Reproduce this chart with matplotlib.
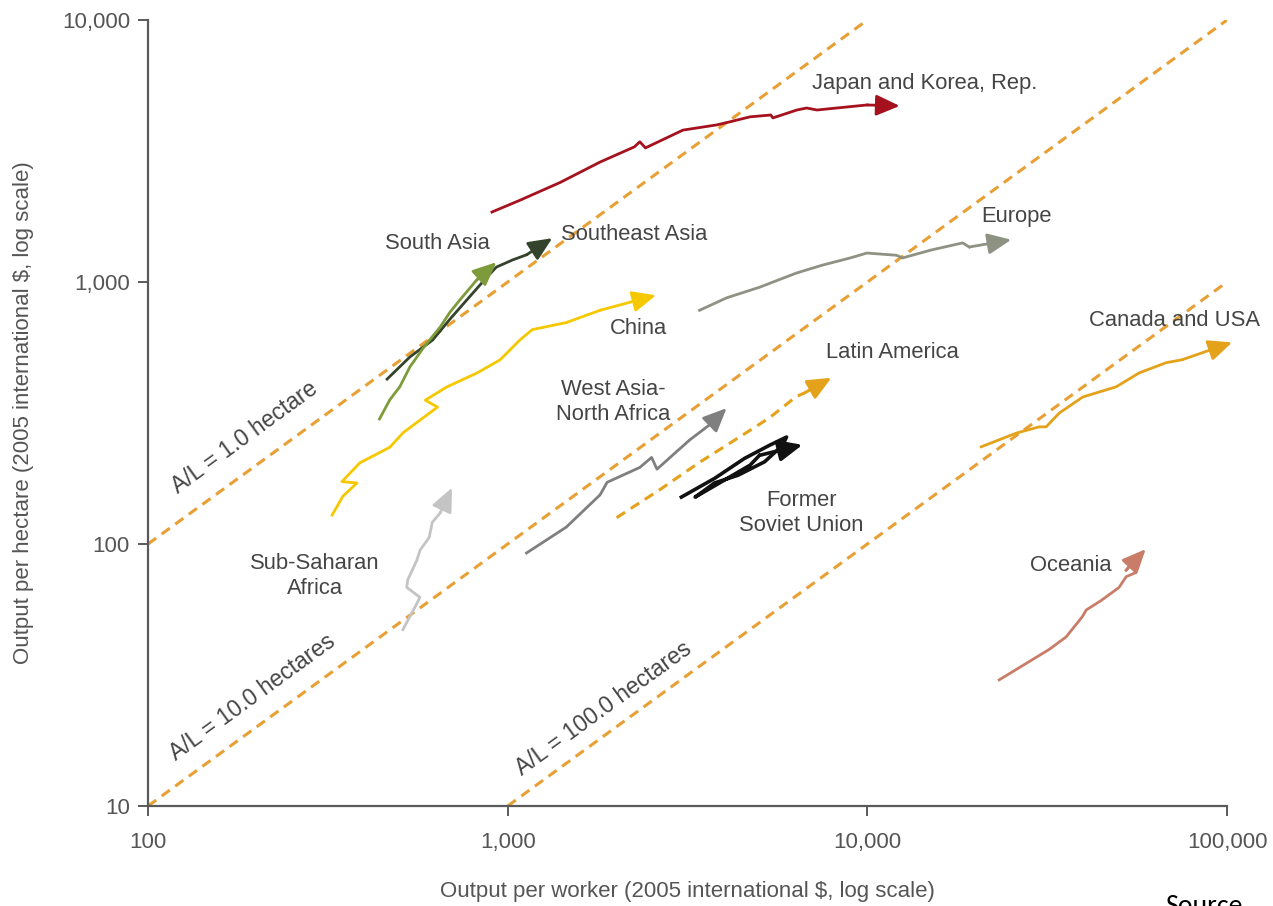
import matplotlib
matplotlib.use("Agg")
import matplotlib.pyplot as plt
from matplotlib.ticker import FixedLocator, FuncFormatter, NullLocator

plt.rcParams['font.family'] = ['Liberation Sans', 'DejaVu Sans']

# land per worker reference lines (y = x / A/L)
al_values = [1, 10, 100]
al_x_start = [100, 100, 1000]
al_x_end = [10000, 100000, 100000]
al_labels = ["A/L = 1.0 hectare", "A/L = 10.0 hectares", "A/L = 100.0 hectares"]
al_label_x = [186, 195, 1850]
al_label_y = [254, 26.0, 23.6]

# regional trajectories: output per worker (x), output per hectare (y)
japan_x = [904, 1080, 1400, 1806, 2250, 2330, 2415, 3070, 3820, 4155, 4717, 5390, 5460, 6370, 6780, 7240, 9975, 12300]
japan_y = [1850, 2050, 2400, 2870, 3280, 3430, 3250, 3800, 3980, 4090, 4270, 4340, 4230, 4535, 4615, 4535, 4740, 4700]

seasia_x = [462, 535, 618, 690, 770, 876, 930, 1033, 1128, 1330]
seasia_y = [426, 518, 600, 720, 855, 1045, 1140, 1215, 1270, 1470]

sasia_x = [440, 470, 501, 535, 585, 650, 690, 735, 820, 930]
sasia_y = [300, 355, 398, 475, 565, 675, 765, 852, 1018, 1190]

china_x = [325, 348, 381, 346, 388, 470, 512, 638, 590, 678, 823, 953, 1080, 1170, 1455, 1806, 2585]
china_y = [129, 152, 171, 173, 204, 234, 266, 333, 354, 398, 450, 505, 600, 658, 700, 780, 890]

europe_x = [3415, 4060, 5012, 6350, 7500, 8950, 9970, 12050, 12510, 15050, 18400, 19200, 25120]
europe_y = [780, 870, 955, 1082, 1160, 1235, 1290, 1265, 1235, 1325, 1410, 1360, 1450]

canada_x = [20730, 25950, 30040, 31420, 34150, 39710, 49170, 57000, 67700, 75000, 103300]
canada_y = [235, 265, 280, 280, 316, 364, 398, 450, 492, 505, 588]

latam_x = [2008, 2645, 3415, 4410, 5340, 6335, 6680, 7943]
latam_y = [126, 161, 205, 256, 303, 365, 377, 431]

wana_x = [1128, 1455, 1806, 1890, 2330, 2512, 2600, 3200, 3640, 4060]
wana_y = [92.4, 116, 154, 172, 196, 214, 193, 249, 285, 330]

fsu_x = [3040, 3760, 4550, 5340, 5960, 5810, 5180, 4370, 3760, 3320, 3880, 4720, 5012, 6600]
fsu_y = [151, 178, 212, 238, 256, 238, 206, 183, 171, 151, 171, 200, 218, 239]

oceania_x = [23260, 32030, 35700, 39600, 40600, 44700, 50100, 52400, 55700, 54500, 52400, 59400]
oceania_y = [30.3, 39.6, 44.2, 52.8, 56.0, 60.9, 68.3, 75.0, 77.7, 85.0, 79.4, 95.6]

ssa_x = [511, 559, 570, 524, 527, 559, 570, 605, 617, 648, 700]
ssa_y = [47.1, 59.3, 62.6, 68.3, 72.8, 86.7, 94.5, 106, 121, 131, 164]

series = [
    (japan_x, japan_y, "#A5121E", "-", 2.0),
    (seasia_x, seasia_y, "#34432B", "-", 2.0),
    (sasia_x, sasia_y, "#7D9B3B", "-", 2.0),
    (china_x, china_y, "#F5C800", "-", 2.0),
    (europe_x, europe_y, "#8E9283", "-", 2.0),
    (canada_x, canada_y, "#E3A21A", "-", 2.0),
    (latam_x, latam_y, "#E3A21A", (0, (3.3, 2.2)), 2.2),
    (wana_x, wana_y, "#7F7F7F", "-", 2.0),
    (fsu_x, fsu_y, "#111111", "-", 2.6),
    (oceania_x, oceania_y, "#C97D68", "-", 2.0),
    (ssa_x, ssa_y, "#C4C4C4", "-", 2.0),
]

region_labels = ["Japan and Korea, Rep.", "South Asia", "Southeast Asia", "Europe", "China",
                 "Latin America", "Canada and USA", "West Asia-\nNorth Africa",
                 "Former\nSoviet Union", "Sub-Saharan\nAfrica", "Oceania"]
region_label_x = [14400, 636, 2250, 25950, 2313, 11740, 71250, 1960, 6560, 291, 36870]
region_label_y = [5720, 1400, 1515, 1780, 665, 538, 715, 348, 131, 75.4, 83]

fig = plt.figure(figsize=(12.73, 9.06), dpi=100)
ax = fig.add_axes([0.1163, 0.1104, 0.8476, 0.8675])
ax.set_xscale("log")
ax.set_yscale("log")
ax.set_xlim(100, 100000)
ax.set_ylim(10, 10000)

al_color = "#E8A035"
for al, x0, x1 in zip(al_values, al_x_start, al_x_end):
    ax.plot([x0, x1], [x0 / al, x1 / al], color=al_color, lw=2.2,
            linestyle=(0, (3.3, 2.2)), zorder=1)
for lab, lx, ly in zip(al_labels, al_label_x, al_label_y):
    ax.text(lx, ly, lab, rotation=36, ha="center", va="center",
            fontsize=16.5, color="#454545", rotation_mode="anchor")

for xs, ys, c, ls, lw in series:
    ax.plot(xs[:-1], ys[:-1], color=c, lw=lw, linestyle=ls, zorder=3,
            solid_joinstyle="round", clip_on=False)
    ax.annotate("", xy=(xs[-1], ys[-1]), xytext=(xs[-2], ys[-2]),
                arrowprops=dict(arrowstyle="-|>,head_length=0.9,head_width=0.4",
                                color=c, lw=lw, shrinkA=0, shrinkB=0,
                                mutation_scale=16),
                zorder=4, annotation_clip=False)

for lab, lx, ly in zip(region_labels, region_label_x, region_label_y):
    ax.text(lx, ly, lab, ha="center", va="center", fontsize=15.8,
            color="#454545", linespacing=1.25, zorder=5)

ticks = [10, 100, 1000, 10000, 100000]
fmt = FuncFormatter(lambda v, p: f"{int(round(v)):,}")
ax.xaxis.set_major_locator(FixedLocator(ticks[1:]))
ax.yaxis.set_major_locator(FixedLocator(ticks[:4]))
ax.xaxis.set_minor_locator(NullLocator())
ax.yaxis.set_minor_locator(NullLocator())
ax.xaxis.set_major_formatter(fmt)
ax.yaxis.set_major_formatter(fmt)

for s in ["top", "right"]:
    ax.spines[s].set_visible(False)
for s in ["left", "bottom"]:
    ax.spines[s].set_color("#5A5A5A")
    ax.spines[s].set_linewidth(1.6)
ax.tick_params(axis="both", direction="out", length=7, width=1.4, color="#5A5A5A",
               labelsize=16, labelcolor="#555555", pad=6)
ax.tick_params(axis="x", pad=12)

ax.set_xlabel("Output per worker (2005 international $, log scale)", fontsize=16,
              color="#555555", labelpad=20)
ax.set_ylabel("Output per hectare (2005 international $, log scale)", fontsize=16,
              color="#555555", labelpad=20)

fig.text(0.915, 0.013, "Source", fontsize=20, color="black", va="top",
         family=["Carlito", "DejaVu Sans"])

fig.savefig("out.png", dpi=100)
